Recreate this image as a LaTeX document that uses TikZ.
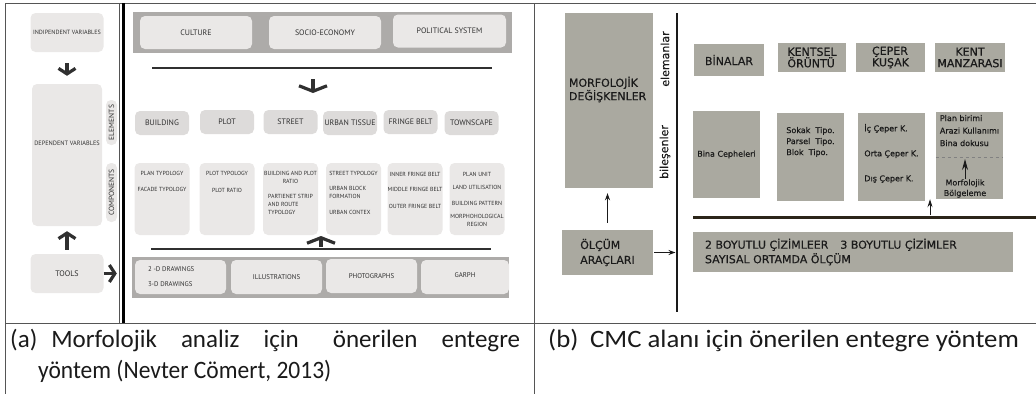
\documentclass[tikz,border=0pt]{standalone}
\usepackage{graphicx}
\usepackage{fontspec}
\setmainfont{Carlito}
\newfontfamily\fa{PT Sans}
\newfontfamily\fb{DejaVu Sans}[FakeBold=0.4]
\usetikzlibrary{arrows.meta, positioning}

\definecolor{bandgray}{RGB}{173,171,169}
\definecolor{boxlight}{RGB}{234,232,231}
\definecolor{boxmid}{RGB}{221,219,218}
\definecolor{inka}{RGB}{48,48,48}
\definecolor{boxb}{RGB}{170,169,160}
\definecolor{inkb}{RGB}{26,26,26}
\definecolor{ruleb}{RGB}{43,37,25}
\definecolor{framegray}{RGB}{85,85,85}

\begin{document}
\begin{tikzpicture}[
        x=1pt, y=-1pt,
        lbox/.style={fill=boxlight, rounded corners=5pt, inner sep=0pt, align=center, text=inka},
        elem/.style={fill=boxmid, rounded corners=5pt, minimum width=54pt, minimum height=24pt, inner sep=0pt, text=inka, font=\fa\fontsize{7.9}{9}\selectfont},
        comp/.style={fill=boxlight, rounded corners=5pt, minimum width=55pt, minimum height=72pt},
        comptxt/.style={inner sep=0pt, align=center, text=inka, font=\fa\fontsize{5.9}{8}\selectfont},
        band/.style={fill=bandgray, inner sep=0pt},
        tag/.style={fill=boxlight, rounded corners=5pt, rotate=90, minimum height=11pt, inner sep=0pt, text=inka, font=\fa\fontsize{7.5}{8}\selectfont},
        bar/.style={draw=inka, line width=2.5pt},
        bigarrow/.style={draw=inka, line width=3.2pt, -{Straight Barb[length=5.5pt, width=17pt]}},
        widearrow/.style={draw=inka, line width=3.2pt, -{Straight Barb[length=5.5pt, width=28pt]}},
        gbox/.style={fill=boxb, inner sep=0pt, align=left, text=inkb, font=\fb\fontsize{11}{11.5}\selectfont},
        gbig/.style={inner sep=0pt, align=left, text=inkb, font=\fb\fontsize{11}{11.5}\selectfont},
        gsmall/.style={inner sep=0pt, align=left, text=inkb, font=\fb\fontsize{8}{11}\selectfont},
        line/.style={draw=inkb, line width=1.3pt, -{Stealth[length=7pt, width=5pt]}},
        caption/.style={inner sep=0pt, anchor=base west, text=inkb, font=\fontsize{25}{30}\selectfont}
    ]
    \useasboundingbox (0,0) rectangle (1036,394);

    % Table frame
    \draw[framegray, line width=0.8pt] (5,3) -- (1036,3);
    \draw[framegray, line width=0.8pt] (5,3) -- (5,394);
    \draw[framegray, line width=0.8pt] (534,3) -- (534,394);
    \draw[framegray, line width=0.8pt] (5,323) -- (1036,323);
    \draw[framegray, line width=0.6pt] (119,3) -- (119,323);
    \draw[black, line width=3pt] (123.5,3) -- (123.5,323);

    % ---- (a) left column: variables and tools
    \node[lbox, minimum width=73pt, minimum height=39pt, font=\fa\fontsize{6.1}{7}\selectfont] (indep) at (67,32.5) {INDIPENDENT VARIABLES};
    \node[lbox, minimum width=70pt, minimum height=142pt] (dep) at (67,155) {};
    \node[comptxt, font=\fa\fontsize{6.3}{7}\selectfont] (deptxt) at (67,143) {DEPENDENT VARIABLES};
    \node[lbox, minimum width=73pt, minimum height=39pt, font=\fa\fontsize{8}{9}\selectfont] (tools) at (67,273.5) {TOOLS};
    \node[tag, minimum width=45pt] (elemtag) at (111.5,122.5) {ELEMENTS};
    \node[tag, minimum width=59pt] (comptag) at (111.5,192.5) {COMPONENTS};

    % ---- (a) right part: context band
    \node[band, minimum width=379pt, minimum height=41pt] (ctxband) at (322.5,32.5) {};
    \node[lbox, minimum width=112pt, minimum height=33pt, font=\fa\fontsize{7.9}{9}\selectfont] (culture) at (196,32.5) {CULTURE};
    \node[lbox, minimum width=112pt, minimum height=33pt, font=\fa\fontsize{7.9}{9}\selectfont] (socio) at (325,32.5) {SOCIO-ECONOMY};
    \node[lbox, minimum width=113pt, minimum height=33pt, font=\fa\fontsize{7.9}{9}\selectfont] (polit) at (449.5,31) {POLITICAL SYSTEM};

    % elements
    \node[elem] (building) at (162,123) {BUILDING};
    \node[elem] (plot) at (227,122) {PLOT};
    \node[elem] (street) at (290.5,122) {STREET};
    \node[elem] (tissue) at (350,123) {URBAN TISSUE};
    \node[elem] (fringe) at (410.5,122) {FRINGE BELT};
    \node[elem] (townscape) at (471.5,123) {TOWNSCAPE};

    % components
    \node[comp] (cbuild) at (162,199) {};
    \node[comp] (cplot) at (227,199) {};
    \node[comp] (cstreet) at (290.5,199) {};
    \node[comp] (ctissue) at (353.5,199) {};
    \node[comp] (cfringe) at (415,199) {};
    \node[comp] (ctown) at (477,199) {};

    \node[comptxt, below=8pt of cbuild.north] {PLAN TYPOLOGY\\[8pt]FACADE TYPOLOGY};
    \node[comptxt, below=8pt of cplot.north] {PLOT TYPOLOGY\\[9pt]PLOT RATIO};
    \node[comptxt, below=8pt of cstreet.north] (bprt) {BUILDING AND PLOT\\RATIO};
    \node[comptxt, align=left, below=11pt of bprt] {PARTIENET STRIP\\AND ROUTE\\TYPOLOGY};
    \node[comptxt, align=left, below=8pt of ctissue.north] {STREET TYPOLOGY\\[7pt]URBAN BLOCK\\FORMATION\\[8pt]URBAN CONTEX};
    \node[comptxt, below=9pt of cfringe.north] {INNER FRINGE BELT\\[7pt]MIDDLE FRINGE BELT\\[9pt]OUTER FRINGE BELT};
    \node[comptxt, below=9pt of ctown.north] {PLAN UNIT\\[5pt]LAND UTILISATION\\[8pt]BUILDING PATTERN\\[5pt]MORPHOHOLOGICAL\\REGION};

    % tools band
    \node[band, minimum width=377pt, minimum height=41pt] (toolband) at (320.5,277.5) {};
    \node[lbox, minimum width=91pt, minimum height=34pt] (draw2d) at (180.5,277) {};
    \node[comptxt, align=left, font=\fa\fontsize{6.8}{8}\selectfont, right=13pt of draw2d.west] {2 -D DRAWINGS\\[7pt]3-D DRAWINGS};
    \node[lbox, minimum width=91pt, minimum height=34pt, font=\fa\fontsize{6.9}{8}\selectfont] (illus) at (276.5,277) {ILLUSTRATIONS};
    \node[lbox, minimum width=91pt, minimum height=34pt, font=\fa\fontsize{6.9}{8}\selectfont] (photo) at (371.5,276) {PHOTOGRAPHS};
    \node[lbox, minimum width=88pt, minimum height=34pt, font=\fa\fontsize{6.9}{8}\selectfont] (garph) at (465,277) {};
    \node[comptxt, font=\fa\fontsize{6.9}{8}\selectfont] (garphtxt) at (465,275) {GARPH};

    % bars and arrows
    \draw[bar] (152,68) -- (492,68);
    \draw[bar] (151,249) -- (491,249);
    \coordinate (downfoot) at (313,79);
    \coordinate (downtip) at (313,93);
    \coordinate (upfoot) at (321,247);
    \coordinate (uptip) at (321,236);
    \draw[widearrow] (downfoot) -- (downtip);
    \draw[widearrow] (upfoot) -- (uptip);

    \draw[bigarrow, shorten <=11pt, shorten >=8pt] (indep) -- (dep);
    \draw[bigarrow, shorten <=4pt, shorten >=5pt] (tools) -- (dep);
    \draw[bigarrow, shorten >=15pt] (tools.east) -- (tools.east -| toolband.west);

    % ---- (b) morphological variables
    \node[gbox, minimum width=88pt, minimum height=175pt] (morph) at (609,100.5) {};
    \node[gbig, right=4pt of morph.west, yshift=11pt] (morphtxt) {MORFOLOJİK\\DEĞİŞKENLER};
    \node[gbig, rotate=90] (elemlbl) at (665,59) {elemanlar};
    \node[gbig, rotate=90] (bileslbl) at (665,152) {bileşenler};

    \coordinate (vtop) at (677,13);
    \coordinate (vbot) at (677,312);
    \draw[inkb, line width=2.5pt] (vtop) -- (vbot);

    % elements
    \node[gbox, minimum width=70pt, minimum height=32pt] (binalar) at (729,60) {BİNALAR};
    \node[gbox, minimum width=68pt, minimum height=29pt] (kentsel) at (812,57.5) {KENTSEL\\ÖRÜNTÜ};
    \node[gbox, minimum width=69pt, minimum height=29pt] (ceper) at (890.5,57.5) {ÇEPER\\KUŞAK};
    \node[gbox, minimum width=70pt, minimum height=29pt, align=center] (manzara) at (970,57.5) {KENT\\MANZARASI};

    % components
    \node[gbox, minimum width=67pt, minimum height=87pt, font=\fb\fontsize{8}{10}\selectfont] (cephe) at (726.5,154.5) {Bina Cepheleri};
    \node[gbox, minimum width=67pt, minimum height=88pt] (sokak) at (810.5,157) {};
    \node[gbox, minimum width=67pt, minimum height=88pt] (icceper) at (891.5,157) {};
    \node[gbox, minimum width=67pt, minimum height=87pt] (plan) at (969.5,155.5) {};

    \node[gsmall, below=14pt of sokak.north] {Sokak\ \ Tipo.\\Parsel\ \ Tipo.\\Blok\ \ Tipo.};
    \node[gsmall, below=11pt of icceper.north] {İç Çeper K.\\[14pt]Orta Çeper K.\\[14pt]Dış Çeper K.};
    \node[gsmall, font=\fb\fontsize{8}{12.5}\selectfont, below=3pt of plan.north] {Plan birimi\\Arazi Kullanımı\\Bina dokusu};
    \coordinate (dash) at (969.5,157);
    \draw[inkb!55, dashed, line width=0.7pt] (dash -| plan.west) -- (dash -| plan.east);
    \node[gsmall, align=center, font=\fb\fontsize{8}{10.5}\selectfont] (bolge) at (965,188.5) {Morfolojik\\Bölgeleme};
    \draw[line, line width=1pt, -{Stealth[length=11pt, width=6pt]}, shorten >=2pt] (bolge.north) -- (bolge.north |- dash);

    % measuring tools
    \node[gbox, minimum width=91pt, minimum height=45pt, font=\fb\fontsize{11}{15}\selectfont] (olcum) at (607.5,252.5) {ÖLÇÜM\\ARAÇLARI};
    \draw[line, shorten <=7pt, shorten >=5pt] (olcum.north) -- (olcum.north |- morph.south);
    \draw[line, shorten <=1pt, shorten >=1.5pt] (olcum.east) -- (olcum.east -| vtop);

    \draw[ruleb, line width=3pt] (693,217) -- (1036,217);
    \coordinate (smallfoot) at (930,215);
    \draw[line, line width=1pt, -{Stealth[length=8pt, width=5pt]}] (smallfoot) -- (smallfoot |- plan.south);

    \node[gbox, minimum width=320pt, minimum height=40pt] (cizim) at (853,252) {};
    \node[gbig, font=\fb\fontsize{11}{14.5}\selectfont, right=12pt of cizim.west] (cizimtxt) {2 BOYUTLU ÇİZİMLEER\hspace{12pt}3 BOYUTLU ÇİZİMLER\\SAYISAL ORTAMDA ÖLÇÜM};

    % ---- captions
    \node[caption] (capa) at (10,347) {\makebox[510pt][s]{(a)\hspace{14pt}Morfolojik analiz için\hspace{10pt} önerilen entegre}};
    \node[caption] (capa2) at (38,378) {\scalebox{0.94}[1]{yöntem (Nevter Cömert, 2013)}};
    \node[caption] (capb) at (548,347) {\scalebox{1.07}[1]{(b)\hspace{11pt}CMC alanı için önerilen entegre yöntem}};
\end{tikzpicture}
\end{document}
